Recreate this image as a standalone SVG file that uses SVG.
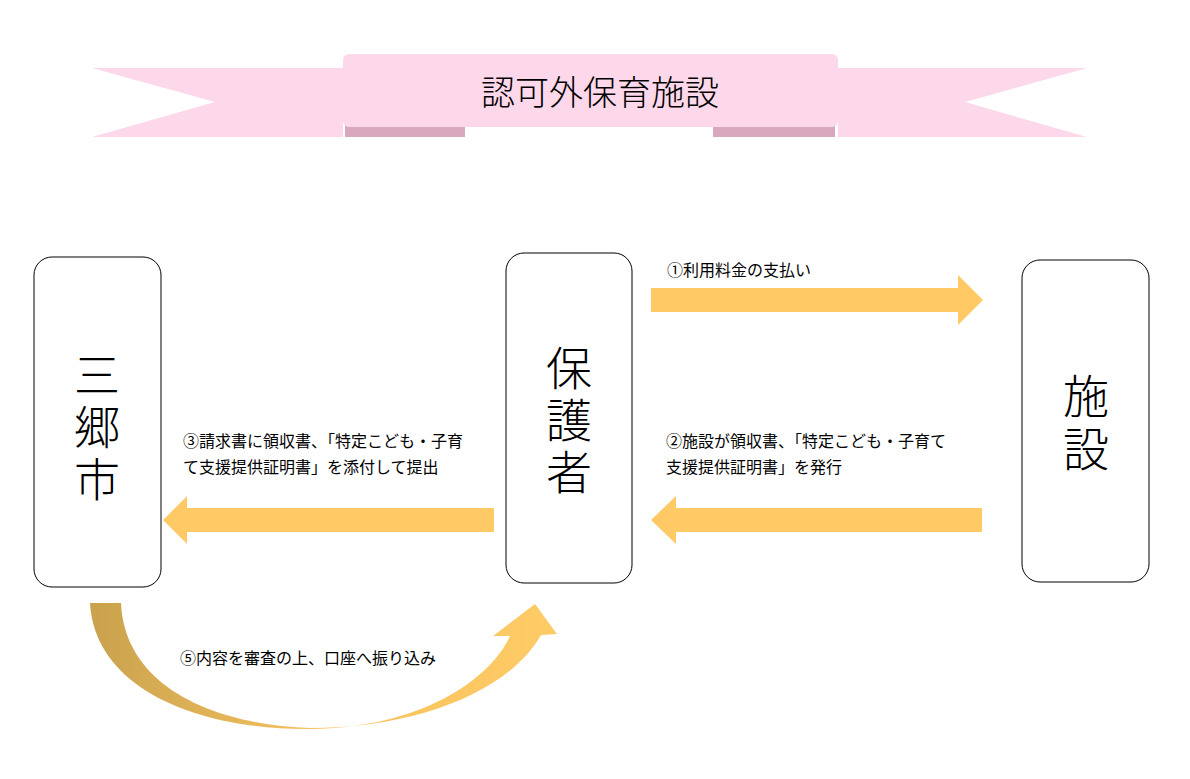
<svg xmlns="http://www.w3.org/2000/svg" width="1190" height="779" viewBox="0 0 1190 779">
<style>
text{font-family:"Noto Sans CJK JP","Noto Sans",sans-serif;fill:#000}
.box{fill:#fff;stroke:#000;stroke-width:1}
.arr{fill:#FFC966}
.lbl{font-size:16px}
.big{font-size:46px;text-anchor:middle;font-weight:300}
</style>
<defs>
<linearGradient id="g" x1="0" x2="1" y1="0" y2="0">
<stop offset="0" stop-color="#C9A24E"/><stop offset="0.5" stop-color="#F6C25F"/><stop offset="1" stop-color="#FFCB66"/>
</linearGradient>
</defs>
<g id="banner">
<polygon points="92,68 343,68 343,137 92,137 215,102" fill="#FDD7EA"/>
<polygon points="838,68 1087,68 965,102 1087,137 838,137" fill="#FDD7EA"/>
<rect x="345" y="124" width="120" height="13" fill="#D8A8BE"/>
<rect x="713" y="124" width="122" height="13" fill="#D8A8BE"/>
<rect x="343" y="54" width="495" height="73" rx="6" fill="#FDD7EA"/>
<text x="600" y="105" font-size="34" text-anchor="middle" font-weight="300">認可外保育施設</text>
</g>
<g id="sanko"><rect class="box" x="34" y="257" width="127" height="330" rx="18"/>
<text class="big" x="97" y="392">三</text><text class="big" x="97" y="444">郷</text><text class="big" x="97" y="496">市</text></g>
<g id="hogosha"><rect class="box" x="506" y="253" width="126" height="330" rx="18"/>
<text class="big" x="569" y="385">保</text><text class="big" x="569" y="437">護</text><text class="big" x="569" y="489">者</text></g>
<g id="shisetsu"><rect class="box" x="1022" y="260" width="127" height="322" rx="18"/>
<text class="big" x="1086" y="413">施</text><text class="big" x="1086" y="466">設</text></g>
<g id="connectors">
<polygon class="arr" points="651,288 958,288 958,275 983,300 958,325 958,312 651,312"/>
<polygon class="arr" points="982,508 676,508 676,496 651,520 676,544 676,532 982,532"/>
<polygon class="arr" points="494,508 187,508 187,496 163,520 187,544 187,532 494,532"/>
<path fill="url(#g)" d="M90,603 C95,690 200,730 310,729 C420,728 490,680 510,636 L493,636 L535,604 L557,634 L541,635 C510,690 420,728 310,728 C220,725 125,690 121,603 Z"/>
<text class="lbl" x="667" y="276">①利用料金の支払い</text>
<text class="lbl" x="666" y="447">②施設が領収書、「特定こども・子育て</text>
<text class="lbl" x="666" y="473">支援提供証明書」を発行</text>
<text class="lbl" x="183" y="447">③請求書に領収書、「特定こども・子育</text>
<text class="lbl" x="183" y="473">て支援提供証明書」を添付して提出</text>
<text class="lbl" x="180" y="664">⑤内容を審査の上、口座へ振り込み</text>
</g>
</svg>
